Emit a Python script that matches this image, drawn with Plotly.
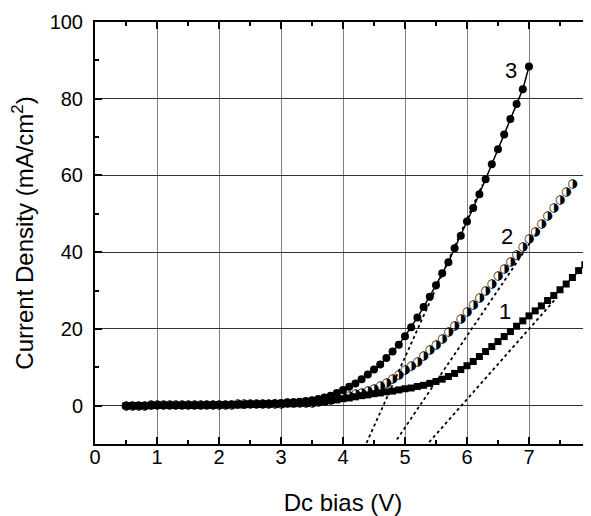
import plotly.graph_objects as go

# bias steps (V)
bias = [0.5, 0.6, 0.7, 0.8, 0.9, 1.0, 1.1, 1.2, 1.3, 1.4,
        1.5, 1.6, 1.7, 1.8, 1.9, 2.0, 2.1, 2.2, 2.3, 2.4,
        2.5, 2.6, 2.7, 2.8, 2.9, 3.0, 3.1, 3.2, 3.3, 3.4,
        3.5, 3.6, 3.7, 3.8, 3.9, 4.0, 4.1, 4.2, 4.3, 4.4,
        4.5, 4.6, 4.7, 4.8, 4.9, 5.0, 5.1, 5.2, 5.3, 5.4,
        5.5, 5.6, 5.7, 5.8, 5.9, 6.0, 6.1, 6.2, 6.3, 6.4,
        6.5, 6.6, 6.7, 6.8, 6.9, 7.0, 7.1, 7.2, 7.3, 7.4,
        7.5, 7.6, 7.7, 7.8, 7.9, 8.0]

# curve 1 (squares), 0.5..8.0 V
j1 = [0.0, 0.0, 0.0, 0.0, 0.0, 0.1, 0.1, 0.1, 0.1, 0.1,
      0.1, 0.1, 0.1, 0.1, 0.1, 0.2, 0.2, 0.2, 0.2, 0.2,
      0.3, 0.3, 0.3, 0.4, 0.4, 0.4, 0.5, 0.5, 0.6, 0.6,
      0.7, 0.9, 1.1, 1.3, 1.5, 1.8, 2.0, 2.3, 2.6, 2.8,
      3.1, 3.3, 3.6, 3.8, 4.1, 4.4, 4.6, 5.0, 5.3, 5.8,
      6.3, 6.9, 7.6, 8.4, 9.4, 10.4, 11.5, 12.8, 14.1, 15.4,
      16.7, 18.0, 19.3, 20.7, 22.1, 23.4, 24.7, 26.0, 27.4, 28.7,
      30.2, 31.7, 33.4, 35.2, 36.7, 38.4]

# curve 2 (half-filled circles), 0.5..7.7 V
j2 = [0.0, 0.0, 0.0, 0.0, 0.1, 0.1, 0.1, 0.1, 0.1, 0.1,
      0.1, 0.1, 0.1, 0.1, 0.2, 0.2, 0.2, 0.2, 0.3, 0.3,
      0.3, 0.3, 0.4, 0.4, 0.5, 0.5, 0.6, 0.6, 0.7, 0.7,
      0.8, 1.0, 1.3, 1.6, 1.9, 2.3, 2.6, 3.0, 3.4, 3.9,
      4.4, 5.1, 6.0, 7.0, 8.1, 9.2, 10.4, 11.5, 12.9, 14.4,
      15.9, 17.5, 19.2, 20.8, 22.7, 24.4, 26.2, 28.0, 29.9, 31.7,
      33.7, 35.6, 37.4, 39.3, 41.3, 43.4, 45.3, 47.4, 49.5, 51.6,
      53.6, 55.8, 57.7]

# curve 3 (filled circles), 0.5..7.0 V
j3 = [0.0, 0.0, 0.0, 0.0, 0.1, 0.1, 0.1, 0.1, 0.1, 0.1,
      0.1, 0.1, 0.1, 0.2, 0.2, 0.2, 0.2, 0.3, 0.3, 0.3,
      0.4, 0.4, 0.5, 0.5, 0.6, 0.7, 0.8, 0.9, 1.0, 1.2,
      1.4, 1.7, 2.1, 2.6, 3.3, 4.1, 4.9, 5.8, 6.9, 8.1,
      9.4, 10.7, 12.4, 14.1, 15.9, 18.1, 20.4, 23.0, 25.7, 28.4,
      31.4, 34.5, 37.4, 41.0, 44.3, 48.0, 51.5, 55.1, 59.0, 62.9,
      66.8, 70.7, 74.7, 78.6, 82.5, 88.4]

# linear extrapolation lines (end points)
tan1_x = [5.39, 7.45]
tan1_y = [-9.5, 28.2]
tan2_x = [4.87, 7.14]
tan2_y = [-8.8, 45.4]
tan3_x = [4.38, 6.25]
tan3_y = [-9.7, 57.6]

# curve labels
label_text = ["1", "2", "3"]
label_x = [6.62, 6.64, 6.71]
label_y = [24.6, 44.1, 87.3]

x_ticks = [0, 1, 2, 3, 4, 5, 6, 7, 8]
y_ticks = [0, 20, 40, 60, 80, 100]

FONT = "Liberation Sans, Arial"

fig = go.Figure()

for tx, ty in [(tan1_x, tan1_y), (tan2_x, tan2_y), (tan3_x, tan3_y)]:
    fig.add_trace(go.Scatter(x=tx, y=ty, mode="lines",
                             line=dict(color="black", width=1.8, dash="dot"),
                             showlegend=False, hoverinfo="skip"))

fig.add_trace(go.Scatter(x=bias[:len(j1)], y=j1, mode="lines+markers",
                         line=dict(color="black", width=1.5),
                         marker=dict(symbol="square", size=7, color="black"),
                         showlegend=False))
fig.add_trace(go.Scatter(x=bias[:len(j3)], y=j3, mode="lines+markers",
                         line=dict(color="black", width=1.5),
                         marker=dict(symbol="circle", size=8, color="black"),
                         showlegend=False))
fig.add_trace(go.Scatter(x=bias[:len(j2)], y=j2, mode="text",
                         text=["\u25D1"] * len(j2), textposition="middle center",
                         textfont=dict(family="DejaVu Sans", size=12, color="black"),
                         showlegend=False))

for t, lx, ly in zip(label_text, label_x, label_y):
    fig.add_annotation(x=lx, y=ly, text=t, showarrow=False,
                       font=dict(family=FONT, size=22, color="black"))

axis_common = dict(
    showline=True, linecolor="black", linewidth=2, mirror="ticks",
    ticks="inside", ticklen=7, tickwidth=2, tickcolor="black",
    zeroline=False, automargin=False, ticklabeloverflow="allow",
    tickfont=dict(family=FONT, size=20, color="black"),
)

fig.update_xaxes(
    range=[0, 8], tickvals=x_ticks, ticktext=[str(v) for v in x_ticks],
    showgrid=True, gridcolor="#808080", gridwidth=1,
    ticklabelstandoff=-6,
    minor=dict(dtick=0.5, tick0=0, ticks="inside", ticklen=4, tickwidth=2,
               tickcolor="black", showgrid=False),
    title=dict(text="Dc bias (V)", standoff=34,
               font=dict(family=FONT, size=24, color="black")),
    **axis_common)
fig.update_yaxes(
    range=[-10, 100], tickvals=y_ticks, ticktext=[str(v) for v in y_ticks],
    showgrid=True, gridcolor="#333333", gridwidth=1,
    ticklabelstandoff=6,
    minor=dict(dtick=10, tick0=0, ticks="inside", ticklen=4, tickwidth=2,
               tickcolor="black", showgrid=False),
    title=dict(text="Current Density (mA/cm<sup>2</sup>)", standoff=10,
               font=dict(family=FONT, size=24, color="black")),
    **axis_common)

# page body has an 8px default margin: compensate so the plot area lands
# at the same window pixels as the reference
fig.update_layout(
    width=583, height=508,
    margin=dict(l=87, r=0, t=14, b=72),
    paper_bgcolor="white", plot_bgcolor="white",
)

fig.write_html("out.html")
